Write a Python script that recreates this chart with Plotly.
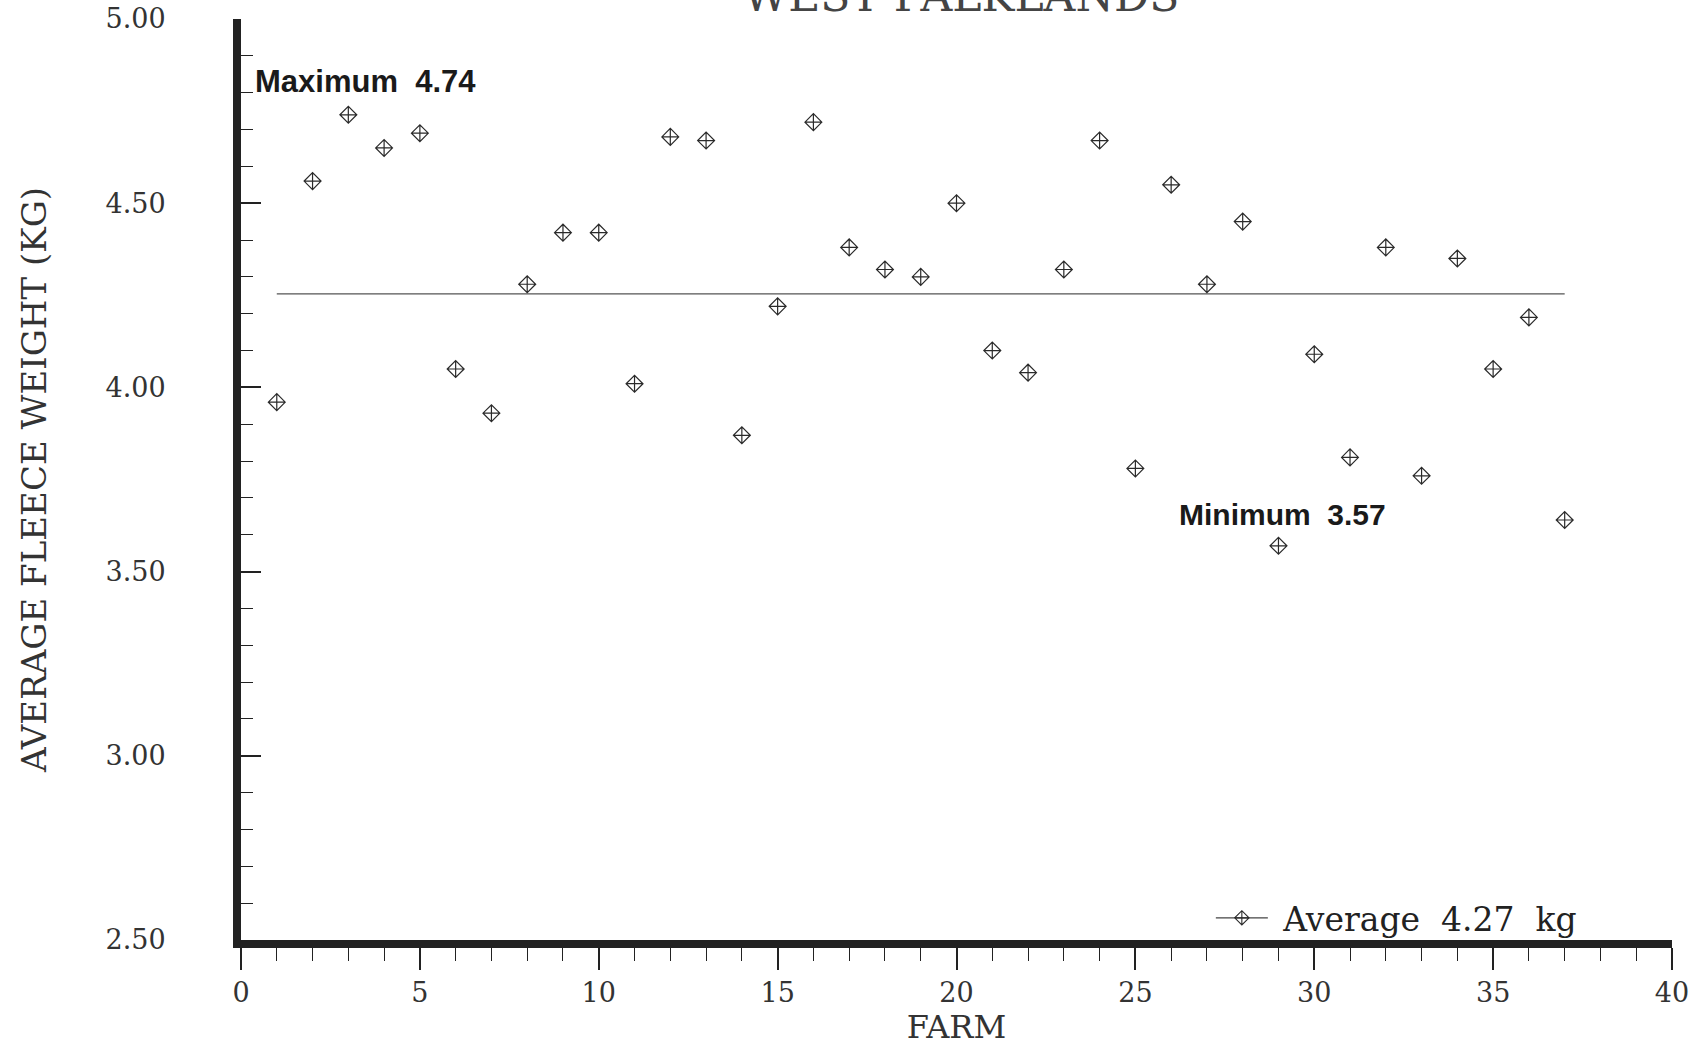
import plotly.graph_objects as go

# ---- data ----
FARMS = list(range(1, 38))
WEIGHTS = [3.96, 4.56, 4.74, 4.65, 4.69, 4.05, 3.93, 4.28, 4.42, 4.42,
           4.01, 4.68, 4.67, 3.87, 4.22, 4.72, 4.38, 4.32, 4.30, 4.50,
           4.10, 4.04, 4.32, 4.67, 3.78, 4.55, 4.28, 4.45, 3.57, 4.09,
           3.81, 4.38, 3.76, 4.35, 4.05, 4.19, 3.64]
TITLE = "WEST FALKLANDS"
X_TITLE = "FARM"
Y_TITLE = "AVERAGE FLEECE WEIGHT (KG)"
AVERAGE_LABEL = "\u00a0Average\u00a0 4.27\u00a0 kg"
MAX_LABEL = "Maximum\u00a0 4.74"
MIN_LABEL = "Minimum\u00a0 3.57"
X_TICKS = [0, 5, 10, 15, 20, 25, 30, 35, 40]
Y_TICKS = [2.5, 3.0, 3.5, 4.0, 4.5, 5.0]
Y_TICK_TEXT = ["2.50", "3.00", "3.50", "4.00", "4.50", "5.00"]

avg = sum(WEIGHTS) / len(WEIGHTS)

INK = "#222222"
TXT = "#333333"
SERIF = "DejaVu Serif"
SANS = "Liberation Sans"

fig = go.Figure()

# average line
fig.add_trace(go.Scatter(
    x=[FARMS[0], FARMS[-1]], y=[avg, avg], mode="lines",
    line=dict(color="#555555", width=1.2), showlegend=False, hoverinfo="skip"))

# farm points
fig.add_trace(go.Scatter(
    x=FARMS, y=WEIGHTS, mode="markers",
    marker=dict(symbol="diamond-cross-open", size=13, color="#2a2a2a",
                line=dict(width=1.2, color="#2a2a2a")),
    showlegend=False))

# legend entry (line with marker symbol)
fig.add_trace(go.Scatter(
    x=[None], y=[None], mode="lines+markers", name=AVERAGE_LABEL,
    line=dict(color="#444444", width=1.1),
    marker=dict(symbol="diamond-cross-open", size=11, color="#2a2a2a",
                line=dict(width=1.1, color="#2a2a2a"))))

# Max / Min annotations
fig.add_annotation(x=3.49, y=4.830, xref="x", yref="y", text=MAX_LABEL,
                   showarrow=False, font=dict(family=SANS, size=31, color="#1a1a1a", weight="bold"),
                   xanchor="center", yanchor="middle")
fig.add_annotation(x=29.10, y=3.654, xref="x", yref="y", text=MIN_LABEL,
                   showarrow=False, font=dict(family=SANS, size=30, color="#1a1a1a", weight="bold"),
                   xanchor="center", yanchor="middle")

# Title, cut off at the top of the page as in the reference
fig.add_annotation(x=0.503, y=0.996, xref="paper", yref="paper", text=TITLE,
                   showarrow=False, font=dict(family=SERIF, size=44, color="#444444"),
                   xanchor="center", yanchor="bottom")

fig.update_layout(
    width=1703, height=1055,
    margin=dict(l=241, r=31, t=19, b=115),
    paper_bgcolor="white", plot_bgcolor="white",
    font=dict(family=SERIF, color=INK),
    legend=dict(x=0.937, y=0.024, xanchor="right", yanchor="middle",
                bgcolor="rgba(0,0,0,0)", itemwidth=52,
                font=dict(family=SERIF, size=33, color=INK)),
)

fig.update_xaxes(
    range=[0, 40], tickvals=X_TICKS, showgrid=False, zeroline=False, automargin=False,
    showline=True, linewidth=8, linecolor=INK,
    ticks="outside", ticklen=22, tickwidth=1.5, tickcolor=INK,
    minor=dict(dtick=1, ticks="outside", ticklen=13, tickwidth=1.2, tickcolor=INK),
    tickfont=dict(family=SERIF, size=27, color=TXT),
    title=dict(text=X_TITLE, font=dict(family=SERIF, size=32, color=TXT), standoff=8),
)
fig.update_yaxes(
    range=[2.5, 5.0], tickvals=Y_TICKS, ticktext=Y_TICK_TEXT, showgrid=False, zeroline=False,
    automargin=False,
    showline=True, linewidth=8, linecolor=INK,
    ticks="inside", ticklen=20, tickwidth=1.5, tickcolor=INK,
    minor=dict(dtick=0.1, ticks="inside", ticklen=12, tickwidth=1.2, tickcolor=INK),
    tickfont=dict(family=SERIF, size=27, color=TXT),
    ticklabelstandoff=62,
    title=dict(text=Y_TITLE, font=dict(family=SERIF, size=34, color=TXT), standoff=52),
)

# remove the browser's default page margin so the figure fills the window exactly
fig.write_html("out.html", config={"displayModeBar": False},
               post_script="document.body.style.margin='0px';")
